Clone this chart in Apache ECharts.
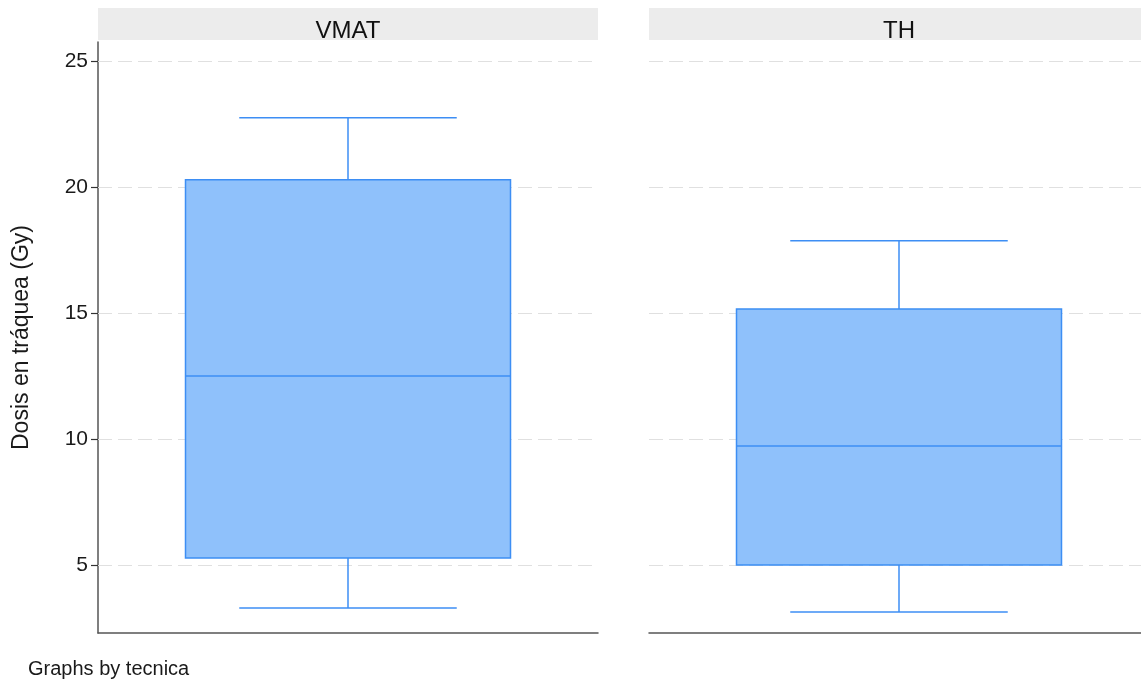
<!DOCTYPE html>
<html>
<head>
<meta charset="utf-8">
<script src="https://cdn.jsdelivr.net/npm/echarts@6/dist/echarts.min.js"></script>
<style>html,body{margin:0;padding:0;background:#fff}#c{width:1141px;height:681px}</style>
</head>
<body>
<div id="c"></div>
<script>
const panels = ['VMAT', 'TH'];
// [min whisker, Q1, median, Q3, max whisker]
const vmatBox = [3.29, 5.28, 12.5, 20.28, 22.74];
const thBox = [3.13, 5.0, 9.72, 15.16, 17.86];
const yTicks = [5, 10, 15, 20, 25];
const yTitle = 'Dosis en tráquea (Gy)';
const note = 'Graphs by tecnica';

const FONT = 'Liberation Sans, Arial, Helvetica, sans-serif';
const boxFill = '#8fc1fb';
const boxStroke = '#3d8ef4';

function renderBox(params, api) {
  const x = api.value(0);
  const lo = api.coord([x, api.value(1)]);
  const q1 = api.coord([x, api.value(2)]);
  const md = api.coord([x, api.value(3)]);
  const q3 = api.coord([x, api.value(4)]);
  const hi = api.coord([x, api.value(5)]);
  const band = api.size([1, 0])[0];
  const bw = band * 0.65, cw = band * 0.435;
  const cx = lo[0];
  const ls = { stroke: boxStroke, lineWidth: 1.5 };
  return {
    type: 'group',
    children: [
      { type: 'line', shape: { x1: cx, y1: hi[1], x2: cx, y2: q3[1] }, style: ls },
      { type: 'line', shape: { x1: cx, y1: q1[1], x2: cx, y2: lo[1] }, style: ls },
      { type: 'line', shape: { x1: cx - cw / 2, y1: hi[1], x2: cx + cw / 2, y2: hi[1] }, style: ls },
      { type: 'line', shape: { x1: cx - cw / 2, y1: lo[1], x2: cx + cw / 2, y2: lo[1] }, style: ls },
      { type: 'rect', shape: { x: cx - bw / 2, y: q3[1], width: bw, height: q1[1] - q3[1] },
        style: { fill: boxFill, stroke: boxStroke, lineWidth: 1.5 } },
      { type: 'line', shape: { x1: cx - bw / 2, y1: md[1], x2: cx + bw / 2, y2: md[1] }, style: ls }
    ]
  };
}

// right panel is cut by the picture edge: its x range stops short of +0.5
const grids = [
  { left: 98, right: 543, top: 42, bottom: 48 },
  { left: 649, right: 0, top: 42, bottom: 48 }
];
const xRanges = [[-0.5, 0.5], [-0.5, 0.484]];
const stripX = [[98, 500], [649, 500]];

function yAxisFor(i) {
  return {
    type: 'value', gridIndex: i, min: 2.3, max: 25.75,
    axisLine: { show: i === 0, onZero: false, lineStyle: { color: '#555', width: 1.5 } },
    axisTick: { show: i === 0, length: 7, customValues: yTicks, lineStyle: { color: '#333', width: 1.2 } },
    axisLabel: { show: i === 0, customValues: yTicks, color: '#1a1a1a', fontSize: 21, fontFamily: FONT, margin: 10 },
    splitLine: { show: false },
    name: i === 0 ? yTitle : '', nameLocation: 'middle', nameGap: 65,
    nameTextStyle: { color: '#1a1a1a', fontSize: 23, fontFamily: FONT }
  };
}
function xAxisFor(i) {
  return {
    type: 'value', gridIndex: i, min: xRanges[i][0], max: xRanges[i][1],
    axisLine: { show: true, onZero: false, lineStyle: { color: '#555', width: 1.5 } },
    axisTick: { show: false }, axisLabel: { show: false }, splitLine: { show: false }
  };
}

const boxes = [vmatBox, thBox];
const series = [];
boxes.forEach((b, i) => {
  series.push({
    type: 'line', xAxisIndex: i, yAxisIndex: i, data: [], z: 1, silent: true,
    markLine: {
      silent: true, symbol: 'none', label: { show: false }, animation: false,
      lineStyle: { type: [14, 6], color: '#e0e0e0', width: 1 },
      data: yTicks.map(v => ({ yAxis: v }))
    }
  });
  series.push({
    type: 'custom', xAxisIndex: i, yAxisIndex: i,
    renderItem: renderBox,
    data: [[0].concat(b)],
    z: 5
  });
});

const graphic = [];
stripX.forEach((s, i) => {
  graphic.push({ type: 'rect', left: s[0], top: 8, shape: { width: s[1], height: 32 },
    style: { fill: '#ececec' }, z: 0 });
  graphic.push({ type: 'text', x: s[0] + s[1] / 2, y: 31,
    style: { text: panels[i], fill: '#111', font: '24px ' + FONT, textAlign: 'center', textVerticalAlign: 'middle' }, z: 1 });
});
graphic.push({ type: 'text', left: 28, top: 659, style: { text: note, fill: '#1a1a1a', font: '20px ' + FONT } });

const chart = echarts.init(document.getElementById('c'), null, { renderer: 'canvas' });
chart.setOption({
  animation: false,
  backgroundColor: '#fff',
  grid: grids,
  xAxis: [xAxisFor(0), xAxisFor(1)],
  yAxis: [yAxisFor(0), yAxisFor(1)],
  series: series,
  graphic: graphic
});
</script>
</body>
</html>
